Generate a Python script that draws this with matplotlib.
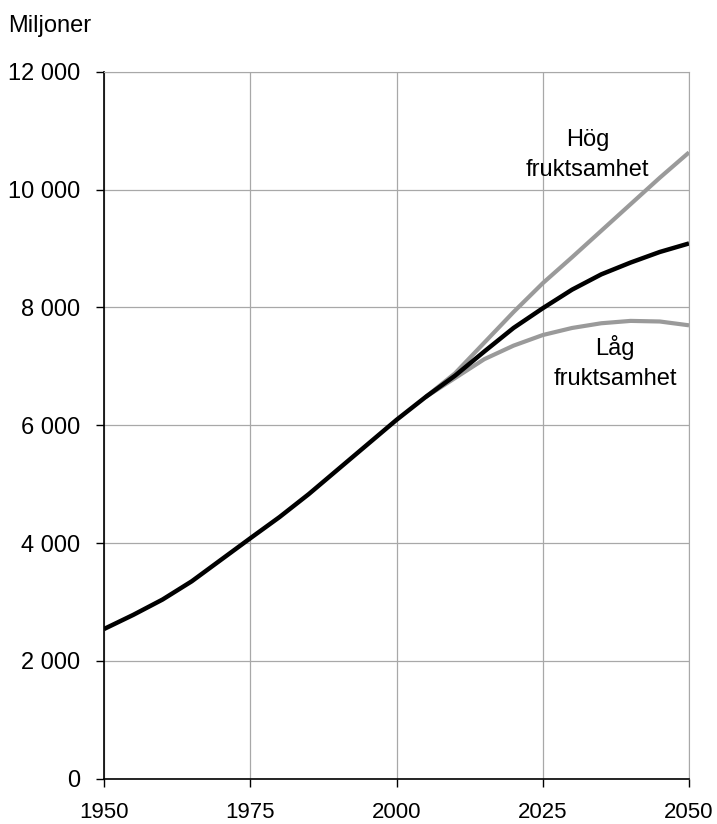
import matplotlib.pyplot as plt
from matplotlib.ticker import FuncFormatter

plt.rcParams['font.family'] = ['Liberation Sans', 'DejaVu Sans']

# Data (millions)
years = [1950, 1955, 1960, 1965, 1970, 1975, 1980, 1985, 1990, 1995,
         2000, 2005, 2010, 2015, 2020, 2025, 2030, 2035, 2040, 2045, 2050]
medium = [2540, 2780, 3040, 3350, 3715, 4080, 4440, 4830, 5250, 5670,
          6090, 6480, 6840, 7250, 7650, 7985, 8300, 8560, 8760, 8940, 9085]

proj_years = [2005, 2010, 2015, 2020, 2025, 2030, 2035, 2040, 2045, 2050]
high = [6480, 6880, 7400, 7920, 8410, 8850, 9300, 9750, 10200, 10630]
low = [6480, 6800, 7120, 7350, 7530, 7650, 7730, 7770, 7760, 7695]

x_ticks = [1950, 1975, 2000, 2025, 2050]
y_ticks = [0, 2000, 4000, 6000, 8000, 10000, 12000]

grey = '#9a9a9a'

fig = plt.figure(figsize=(7.17, 8.24), dpi=100)
ax = fig.add_axes([0.145, 0.055, 0.816, 0.858])

ax.plot(proj_years, high, color=grey, linewidth=3, solid_capstyle='butt')
ax.plot(proj_years, low, color=grey, linewidth=3, solid_capstyle='butt')
ax.plot(years, medium, color='black', linewidth=3.2, solid_capstyle='butt')

ax.set_xlim(1950, 2050)
ax.set_ylim(0, 12000)
ax.set_xticks(x_ticks)
ax.set_yticks(y_ticks)
ax.yaxis.set_major_formatter(FuncFormatter(lambda v, p: f'{int(v):,}'.replace(',', ' ')))

ax.grid(True, color='#a8a8a8', linewidth=0.9)
ax.set_axisbelow(True)
for s in ['top', 'right']:
    ax.spines[s].set_color('#a8a8a8')
for s in ['left', 'bottom']:
    ax.spines[s].set_color('black')
    ax.spines[s].set_linewidth(1.2)

ax.tick_params(axis='both', direction='out', length=6, width=1)
ax.tick_params(axis='y', pad=11, labelsize=17)
ax.tick_params(axis='x', pad=11, labelsize=16)

ax.text(2032.7, 10590, 'Hög\nfruktsamhet', ha='center', va='center',
        fontsize=17, linespacing=1.45)
ax.text(2037.4, 7060, 'Låg\nfruktsamhet', ha='center', va='center',
        fontsize=17, linespacing=1.45)

fig.text(8 / 717, 1 - 32 / 824, 'Miljoner', fontsize=17, ha='left', va='baseline')

fig.savefig('out.png', dpi=100)
